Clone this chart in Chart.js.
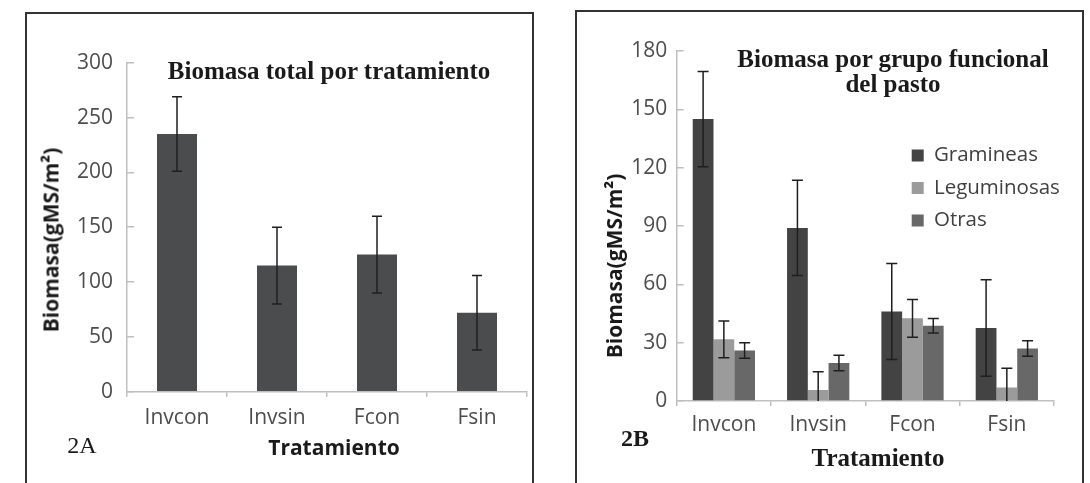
<!DOCTYPE html>
<html><head><meta charset="utf-8">
<script src="https://cdn.jsdelivr.net/npm/chart.js@4.4.1/dist/chart.umd.min.js"></script>
<style>
html,body{margin:0;padding:0;background:#fff;}
body{width:1090px;height:483px;position:relative;overflow:hidden;}
.panel{position:absolute;border:2px solid #333;box-sizing:border-box;}
.cw{position:absolute;top:0;width:545px;height:483px;}
.t{position:absolute;white-space:nowrap;line-height:1;transform:translate(-50%,-50%);color:#1a1a1a;}
.serif{font-family:"Liberation Serif","Times New Roman",serif;font-weight:bold;font-size:25px;}
.sans{font-family:"Open Sans",sans-serif;font-weight:bold;font-size:21px;}
.rot{transform:translate(-50%,-50%) rotate(-90deg);}
</style></head><body>
<div class="panel" style="left:25px;top:12px;width:509px;height:520px;"></div>
<div class="panel" style="left:575px;top:10px;width:509px;height:520px;"></div>
<div class="cw" style="left:0"><canvas id="cA"></canvas></div>
<div class="cw" style="left:545px"><canvas id="cB"></canvas></div>

<div class="t serif" style="left:329px;top:69.5px;">Biomasa total por tratamiento</div>
<div class="t sans rot" style="left:51px;top:240px;">Biomasa(gMS/m²)</div>
<div class="t sans" style="left:334px;top:447px;">Tratamiento</div>
<div class="t serif" style="left:82px;top:445px;font-weight:normal;font-size:24px;">2A</div>

<div class="t serif" style="left:893px;top:71px;line-height:24.5px;text-align:center;">Biomasa por grupo funcional<br>del pasto</div>
<div class="t sans rot" style="left:614px;top:266px;">Biomasa(gMS/m²)</div>
<div class="t serif" style="left:878px;top:457px;">Tratamiento</div>
<div class="t serif" style="left:635px;top:438px;font-size:24px;">2B</div>

<script>
const categories = ['Invcon', 'Invsin', 'Fcon', 'Fsin'];
// Panel 2A
const totalBiomass = [235, 115, 125, 72];
const totalError = [34, 35, 35, 34];
const ticksA = [0, 50, 100, 150, 200, 250, 300];
// Panel 2B
const seriesNames = ['Gramineas', 'Leguminosas', 'Otras'];
const gramineas = [145, 89, 46, 37.5];
const gramineasError = [24.5, 24.5, 24.7, 24.8];
const leguminosas = [31.7, 5.7, 42.5, 7];
const leguminosasError = [9.5, 9.4, 9.7, 9.8];
const otras = [26, 19.5, 38.7, 27];
const otrasError = [4, 4, 3.7, 4];
const ticksB = [0, 30, 60, 90, 120, 150, 180];

Chart.defaults.font.family = '"Open Sans", sans-serif';
Chart.defaults.animation = false;

const errorBars = {
  id: 'errorBars',
  afterDatasetsDraw(chart, args, opts) {
    const ctx = chart.ctx, y = chart.scales.y;
    ctx.save();
    ctx.strokeStyle = opts.color;
    ctx.lineWidth = opts.width;
    chart.data.datasets.forEach((ds, i) => {
      if (!ds.errors) return;
      const meta = chart.getDatasetMeta(i);
      meta.data.forEach((bar, j) => {
        const v = ds.data[j], e = ds.errors[j];
        const top = y.getPixelForValue(v + e);
        const low = Math.max(y.min, v - e);
        const bot = y.getPixelForValue(low);
        const x = bar.x, h = opts.cap / 2;
        ctx.beginPath();
        ctx.moveTo(x, top); ctx.lineTo(x, bot);
        ctx.moveTo(x - h, top); ctx.lineTo(x + h, top);
        if (v - e > y.min) { ctx.moveTo(x - h, bot); ctx.lineTo(x + h, bot); }
        ctx.stroke();
      });
    });
    ctx.restore();
  }
};

const placeLegend = {
  id: 'placeLegend',
  afterLayout(chart, args, opts) {
    const l = chart.legend;
    if (!l || opts.x === undefined) return;
    const dx = opts.x - l.left, dy = opts.y - l.top;
    l.left += dx; l.right += dx; l.top += dy; l.bottom += dy;
  }
};

const axisColor = '#bfbfbf';
const tickFont = {family: '"Open Sans", sans-serif', size: 21};
const tickColor = '#4d4d4d';

function scales(o) {
  return {
    x: {
      grid: {display: true, drawOnChartArea: false, drawTicks: true, tickLength: 5, color: axisColor, lineWidth: 1.5, offset: true},
      border: {display: true, color: axisColor, width: 1.5},
      ticks: {font: tickFont, color: tickColor, padding: o.xPad, maxRotation: 0},
      afterFit(s) { s.height = o.xH; }
    },
    y: {
      min: o.ticks[0], max: o.ticks[o.ticks.length - 1],
      afterBuildTicks(s) { s.ticks = o.ticks.map(v => ({value: v})); },
      grid: {display: true, drawOnChartArea: false, drawTicks: true, tickLength: -7, color: axisColor, lineWidth: 1.5},
      border: {display: true, color: axisColor, width: 1.5},
      ticks: {font: tickFont, color: tickColor, padding: o.yPad},
      afterFit(s) { s.width = o.yW; }
    }
  };
}

new Chart(document.getElementById('cA'), {
  type: 'bar',
  data: {
    labels: categories,
    datasets: [{
      label: 'Biomasa total',
      data: totalBiomass,
      errors: totalError,
      backgroundColor: '#4b4c4e',
      borderWidth: 0,
      categoryPercentage: 1.0,
      barPercentage: 0.4
    }]
  },
  options: {
    responsive: true,
    maintainAspectRatio: false,
    layout: {padding: {top: 62.7, right: 18, left: 0, bottom: 0}},
    plugins: {
      legend: {display: false},
      tooltip: {enabled: false},
      errorBars: {color: '#1f1f1f', width: 1.5, cap: 10}
    },
    scales: scales({ticks: ticksA, xH: 91.3, yW: 127, xPad: 9, yPad: 21})
  },
  plugins: [errorBars]
});

new Chart(document.getElementById('cB'), {
  type: 'bar',
  data: {
    labels: categories,
    datasets: [
      {label: seriesNames[0], data: gramineas, errors: gramineasError, backgroundColor: '#434343'},
      {label: seriesNames[1], data: leguminosas, errors: leguminosasError, backgroundColor: '#9b9b9b'},
      {label: seriesNames[2], data: otras, errors: otrasError, backgroundColor: '#686868'}
    ].map(d => Object.assign(d, {borderWidth: 0, categoryPercentage: 0.66, barPercentage: 1.0}))
  },
  options: {
    responsive: true,
    maintainAspectRatio: false,
    layout: {padding: {top: 51, right: 36, left: 0, bottom: 0}},
    plugins: {
      legend: {
        display: true,
        position: 'chartArea',
        align: 'start',
        labels: {boxWidth: 12, boxHeight: 12, padding: 12, color: '#404040', font: {family: '"Open Sans", sans-serif', size: 20.5}}
      },
      placeLegend: {x: 354.7, y: 133.3},
      tooltip: {enabled: false},
      errorBars: {color: '#1f1f1f', width: 1.5, cap: 11}
    },
    scales: scales({ticks: ticksB, xH: 82, yW: 131.7, xPad: 6.4, yPad: 16.4})
  },
  plugins: [errorBars, placeLegend]
});
</script>
</body></html>
